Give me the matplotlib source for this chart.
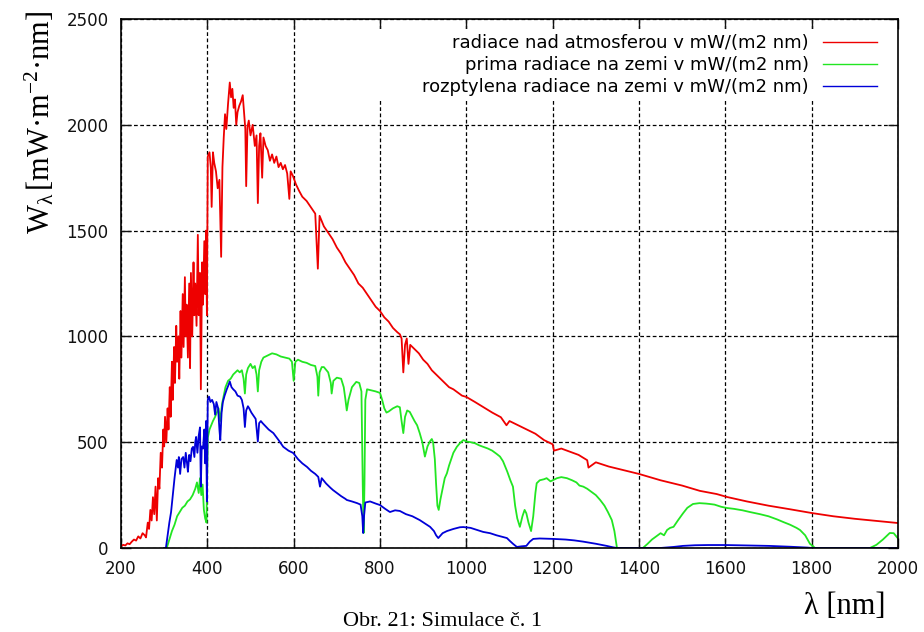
import matplotlib
matplotlib.use('Agg')
import matplotlib.pyplot as plt
from matplotlib.patches import Rectangle

# ---------------- data ----------------
x_ticks = [200, 400, 600, 800, 1000, 1200, 1400, 1600, 1800, 2000]
y_ticks = [0, 500, 1000, 1500, 2000, 2500]

labels = ["radiace nad atmosferou v mW/(m2 nm)",
          "prima radiace na zemi v mW/(m2 nm)",
          "rozptylena radiace na zemi v mW/(m2 nm)"]

red_wl = [200, 205, 210, 215, 220, 225, 230, 235, 240, 245, 250, 255, 258, 262, 265, 268, 271, 274, 277, 280,
          283, 286, 289, 292, 295, 298, 300, 302, 305, 308, 310, 313, 315, 318, 320, 323, 325, 328, 330, 333,
          335, 338, 340, 343, 345, 348, 350, 352, 355, 358, 360, 362, 365, 368, 370, 372, 375, 378, 380, 383,
          385, 388, 390, 393, 395, 397, 399, 401, 405, 408, 410, 413, 416, 420, 424, 428, 432, 435, 438, 441,
          444, 448, 452, 455, 458, 461, 464, 467, 470, 474, 478, 482, 485, 488, 490, 493, 496, 500, 505, 510,
          514, 517, 520, 523, 527, 530, 535, 540, 545, 550, 555, 560, 565, 570, 575, 580, 585, 590, 593, 598,
          605, 612, 620, 630, 640, 650, 656, 660, 670, 680, 690, 700, 710, 720, 730, 740, 750, 760, 770, 780,
          790, 800, 810, 820, 830, 840, 846, 850, 854, 858, 862, 866, 870, 880, 890, 900, 910, 920, 930, 940,
          950, 960, 970, 980, 990, 1000, 1020, 1040, 1060, 1080, 1093, 1100, 1120, 1140, 1160, 1180, 1200, 1203, 1220, 1240,
          1260, 1280, 1283, 1300, 1330, 1360, 1400, 1450, 1500, 1541, 1580, 1604, 1650, 1700, 1750, 1801, 1850, 1900, 1950, 2000]
red_w = [8, 15, 12, 22, 18, 30, 40, 35, 55, 45, 70, 60, 50, 120, 90, 180, 130, 240, 160, 290,
         130, 330, 280, 450, 380, 560, 480, 620, 500, 660, 560, 760, 620, 880, 700, 950, 780, 1050, 880, 1000,
         800, 1120, 900, 1200, 950, 1280, 1000, 1150, 900, 1250, 850, 1300, 1000, 1350, 1100, 1250, 1050, 1480, 1100, 1300,
         750, 1350, 1150, 1450, 1200, 1500, 1100, 1850, 1870, 1800, 1612, 1870, 1820, 1780, 1700, 1740, 1376, 1800, 1940, 2050,
         1980, 2100, 2200, 2130, 2170, 2080, 2120, 2000, 2060, 2090, 2110, 2140, 2060, 1980, 1710, 1990, 2020, 1950, 2000, 1900,
         1950, 1630, 1900, 1960, 1750, 1940, 1900, 1880, 1830, 1860, 1820, 1850, 1800, 1820, 1790, 1810, 1770, 1650, 1780, 1760,
         1720, 1690, 1660, 1640, 1610, 1580, 1320, 1570, 1520, 1490, 1460, 1420, 1390, 1350, 1320, 1290, 1250, 1230, 1200, 1170,
         1140, 1120, 1090, 1070, 1040, 1020, 1010, 990, 830, 960, 990, 870, 960, 940, 920, 890, 870, 840, 820, 800,
         780, 760, 750, 735, 720, 714, 690, 665, 640, 618, 580, 600, 580, 560, 540, 510, 490, 460, 470, 455,
         440, 415, 380, 405, 385, 370, 350, 320, 295, 270, 255, 241, 220, 200, 183, 165, 150, 138, 128, 118]

green_wl = [300, 306, 312, 318, 324, 330, 336, 342, 348, 354, 360, 366, 372, 376, 380, 383, 386, 389, 392, 395,
            398, 401, 405, 409, 413, 418, 422, 426, 430, 434, 438, 442, 448, 454, 460, 465, 470, 475, 480, 484,
            487, 490, 494, 500, 505, 510, 514, 517, 520, 525, 530, 540, 550, 560, 570, 580, 590, 596, 600, 604,
            610, 620, 630, 640, 650, 655, 657, 660, 665, 670, 680, 686, 688, 692, 700, 710, 716, 720, 723, 727,
            735, 745, 752, 757, 760, 762, 764, 766, 770, 780, 790, 800, 805, 810, 815, 820, 830, 840, 846, 850,
            854, 858, 863, 869, 875, 880, 886, 892, 898, 904, 910, 916, 920, 923, 927, 930, 933, 936, 940, 945,
            950, 955, 960, 965, 970, 978, 985, 993, 1001, 1010, 1020, 1030, 1039, 1050, 1060, 1070, 1078, 1085, 1095, 1102,
            1108, 1113, 1118, 1124, 1130, 1135, 1139, 1144, 1150, 1155, 1160, 1163, 1170, 1180, 1186, 1195, 1200, 1210, 1220, 1233,
            1245, 1255, 1262, 1271, 1280, 1290, 1300, 1310, 1320, 1328, 1337, 1343, 1349, 1409, 1420, 1430, 1440, 1450, 1458, 1465,
            1472, 1480, 1490, 1502, 1512, 1525, 1540, 1555, 1564, 1575, 1590, 1604, 1620, 1640, 1657, 1680, 1700, 1720, 1734, 1750,
            1765, 1773, 1785, 1796, 1808, 1935, 1950, 1965, 1981, 1990, 2000]
green_w = [0, 0, 40, 80, 110, 150, 170, 190, 200, 220, 230, 250, 280, 310, 260, 330, 250, 300, 180, 140,
           120, 520, 560, 580, 600, 620, 640, 660, 600, 680, 720, 760, 790, 800, 820, 830, 840, 830, 840, 800,
           730, 820, 850, 870, 850, 860, 820, 740, 840, 880, 900, 910, 920, 915, 905, 900, 895, 880, 790, 880,
           890, 880, 875, 865, 860, 810, 720, 830, 855, 855, 830, 780, 730, 790, 805, 800, 760, 700, 650, 700,
           760, 785, 780, 740, 300, 71, 300, 700, 750, 745, 740, 733, 700, 660, 640, 645, 660, 670, 665, 600,
           543, 620, 650, 643, 620, 600, 580, 543, 500, 432, 480, 505, 515, 500, 420, 300, 200, 180, 230, 280,
           330, 353, 390, 420, 450, 478, 495, 510, 503, 500, 495, 485, 478, 470, 460, 445, 432, 410, 360, 320,
           290, 200, 140, 100, 150, 180, 164, 120, 80, 150, 260, 306, 320, 325, 330, 315, 320, 330, 335, 330,
           320, 310, 295, 290, 280, 265, 250, 227, 200, 170, 132, 80, 0, 0, 20, 40, 55, 70, 60, 85,
           95, 100, 130, 164, 190, 208, 212, 210, 208, 205, 195, 189, 185, 178, 170, 160, 150, 135, 123, 110,
           95, 85, 60, 20, 0, 0, 15, 40, 71, 70, 45]

blue_wl = [300, 304, 308, 312, 316, 320, 324, 329, 332, 334, 337, 340, 344, 347, 350, 353, 355, 358, 361, 364,
           367, 370, 372, 374, 377, 380, 383, 385, 387, 390, 393, 395, 397, 399, 401, 404, 407, 411, 415, 418,
           421, 425, 428, 430, 433, 436, 440, 445, 449, 452, 456, 460, 465, 470, 476, 480, 484, 487, 490, 494,
           497, 502, 507, 512, 517, 520, 524, 528, 535, 542, 553, 565, 576, 588, 599, 610, 620, 631, 640, 650,
           657, 661, 665, 675, 685, 691, 700, 710, 720, 723, 735, 747, 755, 759, 761, 763, 766, 777, 790, 800,
           812, 823, 835, 846, 860, 875, 892, 905, 916, 925, 930, 935, 945, 955, 970, 985, 993, 1010, 1025, 1039,
           1055, 1070, 1085, 1094, 1100, 1108, 1117, 1128, 1139, 1147, 1155, 1170, 1185, 1201, 1230, 1250, 1271, 1300, 1325, 1340,
           1349, 1449, 1480, 1502, 1530, 1560, 1600, 1650, 1700, 1750, 1790, 1800, 2000]
blue_w = [0, 0, 60, 120, 170, 250, 330, 416, 380, 430, 350, 420, 430, 380, 450, 400, 360, 440, 410, 470,
          478, 430, 500, 525, 450, 530, 570, 290, 480, 470, 560, 400, 600, 220, 700, 715, 690, 700, 680, 630,
          690, 660, 560, 510, 640, 690, 720, 750, 770, 787, 760, 750, 740, 720, 715, 700, 660, 572, 650, 670,
          660, 640, 625, 610, 503, 590, 600, 590, 575, 560, 543, 510, 478, 460, 449, 420, 400, 383, 365, 350,
          336, 290, 330, 305, 285, 274, 260, 245, 232, 227, 220, 212, 205, 150, 71, 150, 215, 220, 210, 203,
          185, 170, 178, 175, 160, 150, 132, 115, 100, 80, 60, 47, 70, 80, 90, 98, 99, 95, 85, 76,
          70, 60, 52, 47, 35, 20, 5, 8, 10, 30, 43, 45, 44, 43, 40, 36, 30, 20, 10, 3,
          0, 0, 5, 10, 13, 14, 14, 12, 10, 6, 2, 0, 0]

# ---------------- figure ----------------
plt.rcParams['font.family'] = ['DejaVu Sans']
plt.rcParams['mathtext.fontset'] = 'custom'
plt.rcParams['mathtext.rm'] = 'Liberation Serif'
plt.rcParams['mathtext.it'] = 'Liberation Serif:italic'

fig = plt.figure(figsize=(9.24, 6.32), dpi=100)
ax = fig.add_axes([121 / 924, 84 / 632, 777 / 924, 529 / 632])
ax.set_xlim(200, 2000)
ax.set_ylim(0, 2500)
ax.set_xticks(x_ticks)
ax.set_yticks(y_ticks)
ax.tick_params(direction='in', length=7, width=1, top=True, right=True,
               labelsize=12, colors='#111111')
ax.tick_params(axis='x', pad=9)
ax.tick_params(axis='y', pad=9)
ax.grid(True, color='black', linestyle=(0, (3, 2)), linewidth=0.9)
ax.set_axisbelow(True)
for s in ax.spines.values():
    s.set_linewidth(1.2)

# white key area (blanks the grid behind the key, keeps the top ticks)
ax.add_patch(Rectangle((0.327, 0.847), 0.673, 0.134, transform=ax.transAxes,
                       facecolor='white', edgecolor='none', zorder=1))

ax.plot(red_wl, red_w, color='#ee0000', lw=1.3, label=labels[0], zorder=2)
ax.plot(green_wl, green_w, color='#22e622', lw=1.3, label=labels[1], zorder=2)
ax.plot(blue_wl, blue_w, color='#0000d8', lw=1.3, label=labels[2], zorder=2)

leg = ax.legend(loc='upper right', bbox_to_anchor=(0.978, 0.978), frameon=False,
                markerfirst=False, fontsize=13, handlelength=3.0, handletextpad=0.8,
                labelspacing=0.22, borderpad=0.2, borderaxespad=0)
for col in leg._legend_handle_box.get_children():
    col.align = 'right'
for h in leg.get_lines():
    h.set_linewidth(1.0)

fig.text(39 / 924, 1 - 122 / 632, r'$\mathrm{W_{λ}\,[mW·m^{-2}·nm]}$',
         rotation=90, ha='center', va='center', fontsize=22)
fig.text(845 / 924, 1 - 607 / 632, 'λ [nm]', family='Liberation Serif',
         fontsize=22, ha='center', va='center')
fig.text(443 / 924, 1 - 612 / 632, 'Obr. 21: Simulace č. 1', family='Liberation Serif',
         fontsize=16, ha='center', va='top')

fig.savefig('out.png', dpi=100)
